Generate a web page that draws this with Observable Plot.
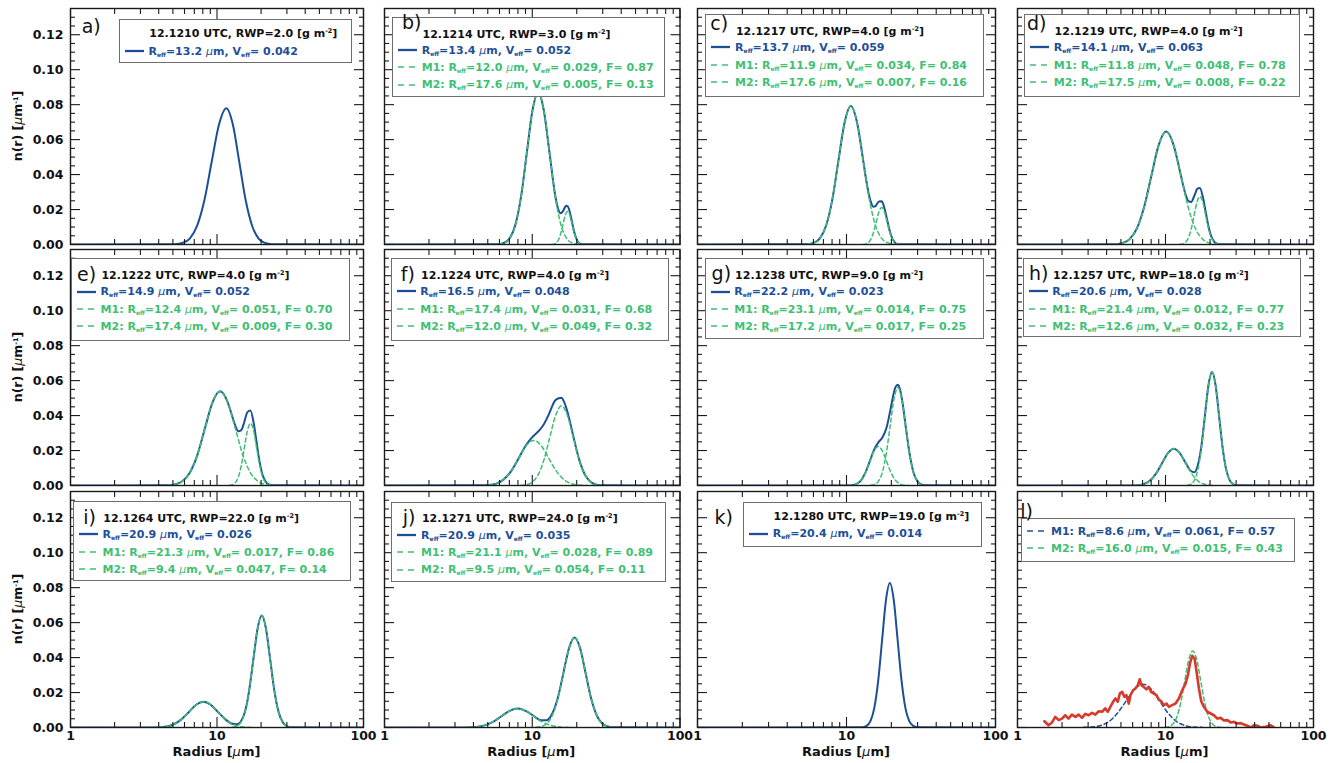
<!DOCTYPE html>
<html><head><meta charset="utf-8">
<script src="https://cdn.jsdelivr.net/npm/d3@7"></script>
<script src="https://cdn.jsdelivr.net/npm/@observablehq/plot@0.6"></script>
<style>
html,body{margin:0;padding:0;background:#fff;}
#fig{position:relative;width:1340px;height:763px;overflow:hidden;font-family:"DejaVu Sans",sans-serif;color:#111;}
.pl{position:absolute;}
.box{position:absolute;background:#fff;border:1.3px solid #6e6e6e;box-sizing:border-box;}
.txt{position:absolute;white-space:nowrap;font-weight:bold;font-size:11px;line-height:1;}
.sub{font-size:6px;vertical-align:-1.5px;}
.sup{font-size:6.5px;vertical-align:4px;}
.mu{font-style:italic;font-weight:normal;}
.plab{position:absolute;font-size:19px;line-height:1;white-space:nowrap;}
.axt{position:absolute;font-weight:bold;font-size:13px;line-height:1;white-space:nowrap;}
</style></head>
<body><div id="fig"></div>
<script>
// ---------- data: radius [um], n(r) [um^-1] ----------
const aTotal = [[1,0],[5.18,0.0002],[5.81,0.0009],[6.52,0.0034],[7.31,0.0106],[8.20,0.0253],[9.20,0.0473],[10.33,0.0688],[11.59,0.078],[12.82,0.0688],[14.19,0.0473],[15.70,0.0253],[17.38,0.0106],[19.23,0.0034],[21.28,0.0009],[23.55,0.0002],[100,0]];

const bTotal = [[1,0],[5.93,0.0002],[6.48,0.0010],[7.07,0.0038],[7.72,0.0118],[8.43,0.0282],[9.20,0.0528],[10.04,0.0768],[10.96,0.087],[11.97,0.0768],[13.07,0.0528],[14.01,0.0331],[14.27,0.0286],[14.51,0.0251],[15.04,0.0198],[15.57,0.0179],[16.15,0.0191],[16.73,0.0216],[17.00,0.0221],[17.34,0.0219],[17.97,0.0185],[18.62,0.0124],[19.29,0.0067],[19.99,0.0029],[20.26,0.0019],[20.71,0.0009],[21.46,0.0002],[100,0]];
const bM1 = [[5.93,0.0002],[6.48,0.0010],[7.07,0.0038],[7.72,0.0118],[8.43,0.0282],[9.20,0.0528],[10.04,0.0768],[10.96,0.087],[11.97,0.0768],[13.07,0.0528],[14.27,0.0282],[15.57,0.0118],[17.00,0.0038],[18.56,0.0010],[20.26,0.0002]];
const bM2 = [[13.52,0],[14.01,0.0002],[14.51,0.0008],[15.04,0.0026],[15.58,0.0062],[16.15,0.0115],[16.73,0.0168],[17.34,0.019],[17.97,0.0168],[18.62,0.0115],[19.29,0.0062],[19.99,0.0026],[20.71,0.0008],[21.46,0.0002],[22.24,0]];

const cTotal = [[1,0],[5.48,0.0002],[6.03,0.0009],[6.63,0.0035],[7.29,0.0107],[8.03,0.0257],[8.83,0.0480],[9.72,0.0699],[10.69,0.0792],[11.76,0.0699],[12.94,0.0481],[13.38,0.0399],[13.96,0.0308],[14.24,0.0273],[14.56,0.0244],[15.18,0.0216],[15.67,0.0219],[15.84,0.0225],[16.52,0.0246],[17.24,0.0247],[17.97,0.0207],[18.75,0.0140],[19.55,0.0074],[20.39,0.0031],[20.87,0.0018],[21.27,0.0009],[22.19,0.0002],[100,0]];
const cM1 = [[5.48,0.0002],[6.03,0.0009],[6.63,0.0035],[7.29,0.0107],[8.03,0.0257],[8.83,0.0480],[9.72,0.0699],[10.69,0.0792],[11.76,0.0699],[12.94,0.0480],[14.24,0.0257],[15.67,0.0107],[17.24,0.0035],[18.97,0.0009],[20.87,0.0002]];
const cM2 = [[12.83,0],[13.38,0.0002],[13.96,0.0009],[14.56,0.0029],[15.18,0.0069],[15.84,0.0129],[16.52,0.0187],[17.23,0.0212],[17.97,0.0187],[18.75,0.0129],[19.55,0.0069],[20.39,0.0029],[21.27,0.0009],[22.19,0.0002],[23.14,0]];

const dTotal = [[1,0],[4.51,0.0001],[5.06,0.0007],[5.68,0.0028],[6.37,0.0087],[7.15,0.0210],[8.02,0.0392],[9.00,0.0570],[10.10,0.0646],[11.33,0.0570],[12.45,0.0428],[13.03,0.0354],[13.63,0.0289],[14.27,0.0248],[14.92,0.0243],[15.61,0.0276],[16.02,0.0300],[16.33,0.0317],[17.08,0.0323],[17.87,0.0273],[18.70,0.0185],[19.56,0.0100],[20.16,0.0058],[20.46,0.0043],[21.40,0.0015],[22.39,0.0004],[23.42,0.0001],[100,0]];
const dM1 = [[4.51,0.0001],[5.06,0.0007],[5.68,0.0028],[6.37,0.0087],[7.15,0.0210],[8.02,0.0392],[9.00,0.0570],[10.10,0.0646],[11.33,0.0570],[12.72,0.0392],[14.27,0.0210],[16.02,0.0087],[17.97,0.0028],[20.16,0.0007],[22.63,0.0001]];
const dM2 = [[12.45,0.0001],[13.03,0.0003],[13.63,0.0012],[14.26,0.0037],[14.92,0.0089],[15.61,0.0167],[16.33,0.0243],[17.08,0.0275],[17.87,0.0243],[18.69,0.0167],[19.56,0.0089],[20.46,0.0037],[21.40,0.0012],[22.39,0.0003],[23.42,0.0001]];

const eTotal = [[1,0],[4.56,0.0001],[5.14,0.0006],[5.79,0.0024],[6.52,0.0073],[7.35,0.0175],[8.27,0.0327],[9.32,0.0476],[10.50,0.0539],[11.83,0.0476],[12.11,0.0452],[12.70,0.0396],[13.33,0.0343],[13.98,0.0310],[14.67,0.0318],[15.01,0.0337],[15.38,0.0365],[16.14,0.0420],[16.91,0.0429],[17.77,0.0361],[18.64,0.0246],[19.05,0.0191],[19.55,0.0134],[20.51,0.0058],[21.46,0.0023],[22.57,0.0006],[24.18,0.0001],[100,0]];
const eM1 = [[4.56,0.0001],[5.14,0.0006],[5.79,0.0024],[6.52,0.0073],[7.35,0.0175],[8.27,0.0327],[9.32,0.0476],[10.50,0.0539],[11.83,0.0476],[13.33,0.0327],[15.01,0.0175],[16.91,0.0073],[19.05,0.0024],[21.46,0.0006],[24.18,0.0001]];
const eM2 = [[12.11,0.0001],[12.70,0.0004],[13.33,0.0016],[13.98,0.0048],[14.67,0.0116],[15.38,0.0216],[16.14,0.0314],[16.93,0.0356],[17.77,0.0314],[18.64,0.0216],[19.55,0.0116],[20.51,0.0048],[21.51,0.0016],[22.57,0.0004],[23.68,0.0001]];

const fTotal = [[1,0],[4.53,0.0001],[5.09,0.0003],[5.72,0.0011],[6.42,0.0035],[7.22,0.0084],[8.11,0.0157],[8.35,0.0177],[9.11,0.0233],[10.01,0.0277],[10.23,0.0285],[10.97,0.0309],[11.50,0.0329],[12.01,0.0352],[12.92,0.0405],[13.16,0.0421],[14.41,0.0490],[15.78,0.0502],[16.31,0.0484],[17.28,0.0423],[18.33,0.0336],[18.93,0.0285],[20.73,0.0151],[22.70,0.0063],[23.13,0.0051],[24.86,0.0020],[27.23,0.0005],[29.83,0.0001],[100,0]];
const fM1 = [[8.35,0.0001],[9.14,0.0005],[10.01,0.0020],[10.97,0.0062],[12.01,0.0148],[13.16,0.0277],[14.41,0.0402],[15.78,0.0456],[17.28,0.0402],[18.92,0.0277],[20.73,0.0148],[22.70,0.0062],[24.86,0.0020],[27.23,0.0005],[29.83,0.0001]];
const fM2 = [[4.53,0.0001],[5.09,0.0003],[5.72,0.0011],[6.42,0.0035],[7.22,0.0084],[8.11,0.0156],[9.11,0.0228],[10.23,0.0258],[11.50,0.0228],[12.92,0.0156],[14.52,0.0084],[16.31,0.0035],[18.33,0.0011],[20.59,0.0003],[23.13,0.0001]];

const gTotal = [[1,0],[10.26,0],[10.96,0.0002],[11.72,0.0010],[12.52,0.0030],[13.38,0.0072],[14.30,0.0136],[15.28,0.0202],[16.40,0.0248],[17.41,0.0274],[18.64,0.0336],[19.63,0.0425],[20.84,0.0535],[21.28,0.0561],[22.13,0.0576],[22.74,0.0556],[23.50,0.0499],[24.30,0.0416],[24.95,0.0340],[26.50,0.0182],[28.13,0.0076],[29.87,0.0025],[31.72,0.0006],[33.68,0.0001],[100,0]];
const gM1 = [[14.54,0.0001],[15.44,0.0006],[16.40,0.0025],[17.41,0.0076],[18.49,0.0182],[19.63,0.0340],[20.84,0.0494],[22.13,0.056],[23.50,0.0494],[24.95,0.0340],[26.50,0.0182],[28.13,0.0076],[29.87,0.0025],[31.72,0.0006],[33.68,0.0001]];
const gM2 = [[10.26,0],[10.96,0.0002],[11.72,0.0010],[12.52,0.0030],[13.38,0.0072],[14.30,0.0135],[15.28,0.0197],[16.32,0.0223],[17.44,0.0197],[18.64,0.0135],[19.92,0.0072],[21.28,0.0030],[22.74,0.0010],[24.30,0.0002],[25.96,0]];

const hTotal = [[1,0],[5.96,0],[6.54,0.0002],[7.18,0.0009],[7.87,0.0028],[8.63,0.0068],[9.47,0.0127],[10.38,0.0185],[11.39,0.0210],[12.49,0.0185],[13.70,0.0128],[14.79,0.0084],[15.63,0.0076],[16.48,0.0112],[17.47,0.0224],[18.08,0.0329],[18.47,0.0400],[19.52,0.0575],[20.63,0.0649],[21.81,0.0572],[23.05,0.0393],[24.37,0.0210],[25.76,0.0088],[27.23,0.0028],[28.78,0.0007],[30.42,0.0001],[100,0]];
const hM1 = [[13.99,0.0001],[14.79,0.0007],[15.63,0.0028],[16.52,0.0088],[17.46,0.0210],[18.47,0.0393],[19.52,0.0572],[20.63,0.0648],[21.81,0.0572],[23.05,0.0393],[24.37,0.0210],[25.76,0.0088],[27.23,0.0028],[28.78,0.0007],[30.42,0.0001]];
const hM2 = [[5.96,0],[6.54,0.0002],[7.18,0.0009],[7.87,0.0028],[8.63,0.0068],[9.47,0.0127],[10.38,0.0185],[11.39,0.0210],[12.49,0.0185],[13.70,0.0127],[15.03,0.0068],[16.48,0.0028],[18.08,0.0009],[19.83,0.0002],[21.76,0]];

const iTotal = [[1,0],[3.64,0],[4.08,0.0002],[4.57,0.0006],[5.12,0.0020],[5.74,0.0048],[6.43,0.0089],[7.20,0.0130],[8.08,0.0147],[9.05,0.0130],[10.14,0.0089],[11.36,0.0048],[12.73,0.0021],[13.58,0.0018],[14.27,0.0026],[14.51,0.0033],[15.50,0.0089],[15.99,0.0136],[16.56,0.0209],[17.70,0.0388],[18.92,0.0565],[20.21,0.064],[21.60,0.0565],[23.08,0.0388],[24.66,0.0208],[26.36,0.0087],[28.16,0.0028],[30.09,0.0007],[32.16,0.0001],[100,0]];
const iM1 = [[12.71,0.0001],[13.58,0.0007],[14.51,0.0028],[15.50,0.0087],[16.56,0.0208],[17.70,0.0388],[18.92,0.0565],[20.21,0.064],[21.60,0.0565],[23.08,0.0388],[24.66,0.0208],[26.36,0.0087],[28.16,0.0028],[30.09,0.0007],[32.16,0.0001]];
const iM2 = [[3.64,0],[4.08,0.0002],[4.57,0.0006],[5.12,0.0020],[5.74,0.0048],[6.43,0.0089],[7.20,0.0130],[8.08,0.0147],[9.05,0.0130],[10.14,0.0089],[11.36,0.0048],[12.73,0.0020],[14.27,0.0006],[15.99,0.0002],[17.92,0]];

const jTotal = [[1,0],[3.36,0],[3.80,0.0001],[4.30,0.0005],[4.87,0.0015],[5.50,0.0035],[6.22,0.0066],[7.04,0.0095],[7.96,0.0108],[9.01,0.0095],[10.18,0.0067],[10.58,0.0057],[11.53,0.0041],[12.57,0.0042],[13.03,0.0052],[13.69,0.0080],[14.73,0.0154],[16.27,0.0314],[16.66,0.0356],[17.74,0.0454],[19.33,0.0515],[21.07,0.0454],[22.96,0.0312],[25.02,0.0167],[27.28,0.0070],[29.73,0.0023],[32.40,0.0006],[35.32,0.0001],[100,0]];
const jM1 = [[10.58,0.0001],[11.53,0.0006],[12.57,0.0023],[13.69,0.0070],[14.93,0.0167],[16.27,0.0312],[17.74,0.0454],[19.33,0.0515],[21.07,0.0454],[22.96,0.0312],[25.02,0.0167],[27.28,0.0070],[29.73,0.0023],[32.40,0.0006],[35.32,0.0001]];
const jM2 = [[3.36,0],[3.80,0.0001],[4.30,0.0005],[4.87,0.0015],[5.50,0.0035],[6.22,0.0066],[7.04,0.0095],[7.96,0.0108],[9.01,0.0095],[10.18,0.0066],[11.52,0.0035],[13.03,0.0015],[14.74,0.0005],[16.66,0.0001],[18.85,0]];

const kTotal = [[1,0],[12.84,0.0002],[13.64,0.0009],[14.48,0.0036],[15.37,0.0112],[16.33,0.0269],[17.34,0.0502],[18.41,0.0730],[19.54,0.0827],[20.75,0.0730],[22.03,0.0502],[23.40,0.0269],[24.84,0.0112],[26.38,0.0036],[28.01,0.0009],[29.74,0.0002],[100,0]];

const lMeasured = [[1.52,0.0036],[1.62,0.0013],[1.71,0.0029],[1.80,0.0061],[1.90,0.0042],[2.00,0.0051],[2.10,0.0070],[2.21,0.0051],[2.33,0.0074],[2.46,0.0061],[2.59,0.0074],[2.73,0.0055],[2.87,0.0078],[3.03,0.0070],[3.19,0.0084],[3.36,0.0074],[3.54,0.0093],[3.73,0.0090],[3.92,0.0109],[4.07,0.0090],[4.24,0.0118],[4.42,0.0147],[4.59,0.0166],[4.76,0.0147],[4.91,0.0194],[5.09,0.0204],[5.28,0.0175],[5.44,0.0185],[5.65,0.0137],[5.80,0.0185],[6.04,0.0213],[6.26,0.0223],[6.50,0.0242],[6.70,0.0276],[6.88,0.0242],[7.13,0.0232],[7.43,0.0219],[7.71,0.0232],[8.00,0.0204],[8.34,0.0194],[8.69,0.0185],[9.01,0.0160],[9.35,0.0150],[9.74,0.0128],[10.16,0.0137],[10.53,0.0118],[11.09,0.0128],[11.69,0.0137],[12.31,0.0166],[12.97,0.0213],[13.66,0.0251],[14.17,0.0299],[14.62,0.0366],[15.16,0.0410],[15.72,0.0394],[16.22,0.0318],[16.82,0.0223],[17.44,0.0150],[18.18,0.0118],[19.15,0.0090],[20.17,0.0080],[21.24,0.0070],[22.39,0.0051],[23.58,0.0055],[24.84,0.0040],[26.16,0.0042],[27.55,0.0029],[29.03,0.0032],[30.57,0.0023],[32.2,0.0025],[33.9,0.0017],[35.7,0.0010],[37.6,0.0],[39.6,0.0013],[41.8,0.0010],[44.0,0.0],[47.6,0.0004],[51.4,0.0013],[54.2,0.0]];
const lM1 = [[2.79,0.0001],[3.19,0.0003],[3.64,0.0011],[4.15,0.0034],[4.73,0.0081],[5.40,0.0150],[6.16,0.0219],[7.03,0.0248],[8.02,0.0219],[9.15,0.0150],[10.43,0.0081],[11.90,0.0034],[13.58,0.0011],[15.50,0.0003],[17.68,0.0001]];
const lM2 = [[9.89,0.0001],[10.52,0.0005],[11.19,0.0019],[11.91,0.0059],[12.68,0.0142],[13.49,0.0266],[14.35,0.0387],[15.28,0.0438],[16.26,0.0387],[17.30,0.0266],[18.41,0.0142],[19.59,0.0059],[20.84,0.0019],[22.18,0.0005],[23.60,0.0001]];

// ---------- legend values ----------
const panelIds = ["a","b","c","d","e","f","g","h","i","j","k","l"];
const times   = ["12.1210","12.1214","12.1217","12.1219","12.1222","12.1224","12.1238","12.1257","12.1264","12.1271","12.1280",null];
const rwp     = ["2.0","3.0","4.0","4.0","4.0","4.0","9.0","18.0","22.0","24.0","19.0",null];
const reffTot = ["13.2","13.4","13.7","14.1","14.9","16.5","22.2","20.6","20.9","20.9","20.4",null];
const veffTot = ["0.042","0.052","0.059","0.063","0.052","0.048","0.023","0.028","0.026","0.035","0.014",null];
const m1Reff = [null,"12.0","11.9","11.8","12.4","17.4","23.1","21.4","21.3","21.1",null,"8.6"];
const m1Veff = [null,"0.029","0.034","0.048","0.051","0.031","0.014","0.012","0.017","0.028",null,"0.061"];
const m1F    = [null,"0.87","0.84","0.78","0.70","0.68","0.75","0.77","0.86","0.89",null,"0.57"];
const m2Reff = [null,"17.6","17.6","17.5","17.4","12.0","17.2","12.6","9.4","9.5",null,"16.0"];
const m2Veff = [null,"0.005","0.007","0.008","0.009","0.049","0.017","0.032","0.047","0.054",null,"0.015"];
const m2F    = [null,"0.13","0.16","0.22","0.30","0.32","0.25","0.23","0.14","0.11",null,"0.43"];

const totals = [aTotal,bTotal,cTotal,dTotal,eTotal,fTotal,gTotal,hTotal,iTotal,jTotal,kTotal,null];
const mode1  = [null,bM1,cM1,dM1,eM1,fM1,gM1,hM1,iM1,jM1,null,lM1];
const mode2  = [null,bM2,cM2,dM2,eM2,fM2,gM2,hM2,iM2,jM2,null,lM2];
const measured = [null,null,null,null,null,null,null,null,null,null,null,lMeasured];

// ---------- axis ticks ----------
const xMajor = [1,10,100];
const xMinor = [2,3,4,5,6,7,8,9,20,30,40,50,60,70,80,90];
const yMajor = [0,0.02,0.04,0.06,0.08,0.10,0.12];
const yMinor = [0.005,0.01,0.015,0.025,0.03,0.035,0.045,0.05,0.055,0.065,0.07,0.075,0.085,0.09,0.095,0.105,0.11,0.115,0.125,0.13];

// ---------- layout ----------
const colLeft = [70, 383.5, 697, 1016.5];
const colW = [293, 295.5, 298, 296];
const rowTop = [8, 249, 491];
const H = 236;
const BLUE = "#1d4f98", GREEN = "#3fbf74", RED = "#d7392b";
// legend boxes relative to frame: [left, top, width, height]
const boxes = [[48.7,11.3,233.3,44],[8.4,8.7,273.3,80],[8.3,6,279,83.3],[7.5,6,276,83],[0.8,9.3,278.8,82.7],[7,9,278,83],[7.5,9.3,279.5,81],[6,9,278,79],[2.7,10,278,80],[7.8,10.5,275,80],[46,10.5,239,45.3],[4.7,26.5,274.3,44.6]];
// panel letters relative to frame: [left, baseline]
const letters = [[11.7,25],[18.4,21.3],[13.3,22],[10.4,22],[7,32],[17.3,31.5],[14.6,30.5],[12.4,31],[13.3,32.5],[19.2,33],[17.6,32.5],[3.7,27]];

const fig = document.getElementById("fig");
const sub = '<span class="sub">eff</span>';
const mu = '<span class="mu">μ</span>m';

function addDiv(cls, html, styles) {
  const d = document.createElement("div");
  d.className = cls;
  d.innerHTML = html;
  Object.assign(d.style, styles);
  fig.appendChild(d);
  return d;
}

function handle(color, dashed) {
  return `<svg width="20" height="6" style="position:absolute;left:5px;top:-3px;overflow:visible"><line x1="0" y1="3" x2="19" y2="3" stroke="${color}" stroke-width="${dashed ? 1.6 : 2.3}" ${dashed ? 'stroke-dasharray="6,5"' : ''}/></svg>`;
}

panelIds.forEach((id, k) => {
  const row = Math.floor(k / 4), col = k % 4;
  const ml = col === 0 ? 70 : 0;
  const mb = row === 2 ? 40 : 0;
  const W = colW[col];
  const lineXY = {x: d => d[0], y: d => d[1], clip: true};
  const marks = [];
  if (totals[k]) marks.push(Plot.line(totals[k], {...lineXY, stroke: BLUE, strokeWidth: 2, curve: "monotone-x"}));
  if (mode1[k]) marks.push(Plot.line(mode1[k], {...lineXY, stroke: id === "l" ? BLUE : GREEN, strokeWidth: 1.5, strokeDasharray: "4,3", curve: "monotone-x"}));
  if (mode2[k]) marks.push(Plot.line(mode2[k], {...lineXY, stroke: GREEN, strokeWidth: 1.5, strokeDasharray: "4,3", curve: "monotone-x"}));
  if (measured[k]) marks.push(Plot.line(measured[k], {...lineXY, stroke: RED, strokeWidth: 2.6, curve: "linear"}));
  const tk = {stroke: "#1a1a1a", strokeWidth: 1.1, label: null, tickFormat: () => ""};
  marks.push(
    Plot.axisX({...tk, anchor: "bottom", ticks: xMajor, tickSize: -10}),
    Plot.axisX({...tk, anchor: "bottom", ticks: xMinor, tickSize: -5}),
    Plot.axisX({...tk, anchor: "top", ticks: xMajor, tickSize: -10}),
    Plot.axisX({...tk, anchor: "top", ticks: xMinor, tickSize: -5}),
    Plot.axisY({...tk, anchor: "left", ticks: yMajor, tickSize: -10}),
    Plot.axisY({...tk, anchor: "left", ticks: yMinor, tickSize: -5}),
    Plot.axisY({...tk, anchor: "right", ticks: yMajor, tickSize: -10}),
    Plot.axisY({...tk, anchor: "right", ticks: yMinor, tickSize: -5}),
    Plot.frame({stroke: "#1a1a1a", strokeWidth: 1.4})
  );
  if (col === 0) marks.push(Plot.axisY({anchor: "left", ticks: yMajor, tickSize: 0, tickPadding: 7, tickFormat: d3.format(".2f"), label: null, fill: "#111"}));
  if (row === 2) marks.push(Plot.axisX({anchor: "bottom", ticks: xMajor, tickSize: 0, tickPadding: 4, tickFormat: d => String(d), label: null, fill: "#111"}));

  const svg = Plot.plot({
    width: W + ml, height: H + mb,
    marginLeft: ml, marginRight: 0, marginTop: 0, marginBottom: mb,
    x: {type: "log", domain: [1, 100], axis: null},
    y: {domain: [0, 0.135], axis: null},
    style: {overflow: "visible", fontFamily: "DejaVu Sans, sans-serif", fontSize: "12.5px", fontWeight: "bold", background: "transparent", color: "#111"},
    marks
  });
  const holder = document.createElement("div");
  holder.className = "pl";
  holder.style.left = (colLeft[col] - ml) + "px";
  holder.style.top = rowTop[row] + "px";
  holder.appendChild(svg);
  fig.appendChild(holder);

  // legend box
  const fx = colLeft[col], fy = rowTop[row];
  const [bl, bt, bw, bh] = boxes[k];
  const box = addDiv("box", "", {left: (fx + bl) + "px", top: (fy + bt) + "px", width: bw + "px", height: bh + "px"});
  const rows = [];
  if (times[k]) rows.push({html: `${times[k]} UTC, RWP=${rwp[k]} [g m<span class="sup">-2</span>]`, color: "#111", handle: null, x: 30.8});
  if (reffTot[k]) rows.push({html: `R${sub}=${reffTot[k]} ${mu}, V${sub}= ${veffTot[k]}`, color: BLUE, handle: [BLUE, false], x: 30});
  if (m1Reff[k]) rows.push({html: `M1: R${sub}=${m1Reff[k]} ${mu}, V${sub}= ${m1Veff[k]}, F= ${m1F[k]}`, color: id === "l" ? BLUE : GREEN, handle: [id === "l" ? BLUE : GREEN, true], x: 30});
  if (m2Reff[k]) rows.push({html: `M2: R${sub}=${m2Reff[k]} ${mu}, V${sub}= ${m2Veff[k]}, F= ${m2F[k]}`, color: GREEN, handle: [GREEN, true], x: 30});
  const ys = rows.length === 4 ? [17.4, 33.6, 51, 68.2] : (id === "l" ? [14, 30.6] : [14.6, 32.2]);
  rows.forEach((r, i) => {
    const y = ys[i] - 1.2;
    if (r.handle) {
      const hd = document.createElement("div");
      hd.style.cssText = `position:absolute;left:0;top:${y}px;height:0;width:0`;
      hd.innerHTML = handle(r.handle[0], r.handle[1]);
      box.appendChild(hd);
    }
    const t = document.createElement("div");
    t.className = "txt";
    t.style.cssText = `left:${r.x - 1.2}px;top:${y - 5.3}px;color:${r.color}`;
    t.innerHTML = r.html;
    box.appendChild(t);
  });

  // panel letter
  const [lx, lb] = letters[k];
  addDiv("plab", id + ")", {left: (fx + lx) + "px", top: (fy + lb - 16) + "px"});

  // axis titles
  if (row === 2) addDiv("axt", `Radius [${mu}]`, {left: (fx + W / 2) + "px", top: "745px", transform: "translateX(-50%)"});
  if (col === 0) addDiv("axt", `n(r) [${mu}<span class="sup">-1</span>]`, {left: "18px", top: (rowTop[row] + H / 2) + "px", transform: "translate(-50%,-50%) rotate(-90deg)", fontSize: "12.5px"});
});
</script>
</body></html>
